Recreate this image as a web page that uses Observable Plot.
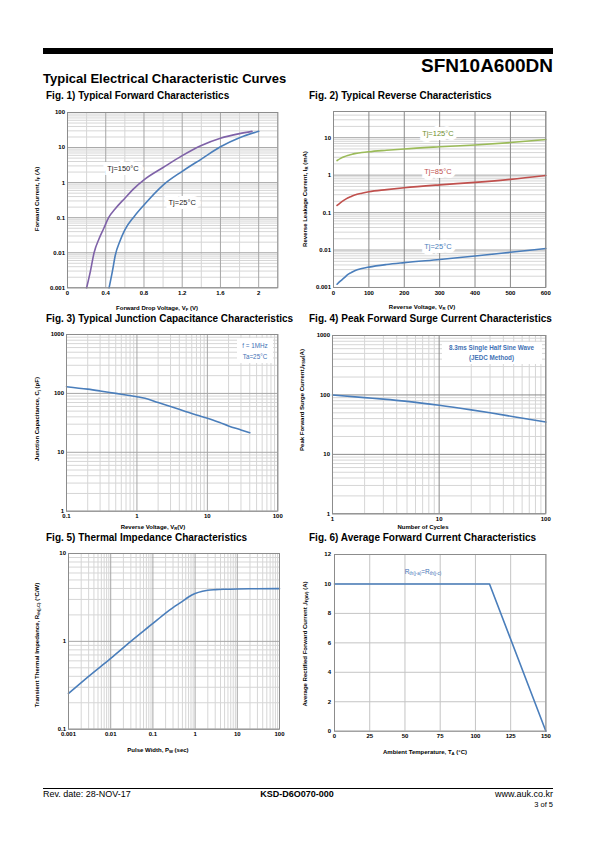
<!DOCTYPE html>
<html><head><meta charset="utf-8">
<script src="https://cdn.jsdelivr.net/npm/d3@7"></script>
<script src="https://cdn.jsdelivr.net/npm/@observablehq/plot@0.6"></script>
<style>
body{margin:0;background:#fff;}
#page{position:relative;width:595px;height:842px;overflow:hidden;background:#fff;font-family:"Liberation Sans",Arial,Helvetica,sans-serif;color:#000;}
.abs{position:absolute;white-space:nowrap;line-height:1;}
.ax{font-weight:bold;font-size:6px;}
.yl{transform:translate(-50%,-50%) rotate(-90deg);}
.xl{transform:translate(-50%,-50%);}
sub{font-size:70%;vertical-align:-0.25em;line-height:0;}
.box{position:absolute;background:#fff;color:#3f72b5;font-size:6.3px;font-weight:bold;text-align:center;line-height:1;}
</style></head><body><div id="page"></div>
<script>
// ---------- Fig 1: forward characteristics ----------
const fwdV150 = [0.2, 0.24, 0.278, 0.33, 0.38, 0.43, 0.5, 0.6, 0.7, 0.8, 1.0, 1.2, 1.4, 1.6, 1.8, 1.93];
const fwdI150 = [0.001, 0.003, 0.01, 0.025, 0.05, 0.1, 0.18, 0.36, 0.7, 1.2, 2.7, 5.9, 11.5, 18.5, 25, 29];
const fwdV25 = [0.435, 0.47, 0.5, 0.55, 0.6, 0.7, 0.8, 1.0, 1.2, 1.4, 1.6, 1.8, 2.0];
const fwdI25 = [0.001, 0.003, 0.0085, 0.022, 0.045, 0.11, 0.23, 0.85, 2.1, 4.7, 10.5, 19, 29];
const f1XTicks = [0, 0.4, 0.8, 1.2, 1.6, 2];
const f1XLabels = ["0", "0.4", "0.8", "1.2", "1.6", "2"];
const f1XMinor = [0.2, 0.6, 1.0, 1.4, 1.8, 2.2];
const f1YTicks = [0.001, 0.01, 0.1, 1, 10, 100];
const f1YLabels = ["0.001", "0.01", "0.1", "1", "10", "100"];

// ---------- Fig 2: reverse characteristics ----------
const revV = [10, 20, 30, 40, 50, 60, 80, 100, 150, 200, 300, 400, 500, 600];
const revI125 = [2.45, 2.8, 3.1, 3.35, 3.55, 3.75, 4.0, 4.2, 4.6, 5.0, 5.7, 6.4, 7.4, 8.9];
const revI85 = [0.155, 0.185, 0.215, 0.245, 0.27, 0.295, 0.33, 0.36, 0.41, 0.46, 0.55, 0.64, 0.77, 0.98];
const revI25 = [0.00122, 0.0015, 0.0018, 0.0022, 0.0025, 0.0028, 0.0032, 0.0035, 0.0041, 0.0046, 0.0056, 0.0069, 0.0087, 0.011];
const f2XTicks = [0, 100, 200, 300, 400, 500, 600];
const f2XLabels = ["0", "100", "200", "300", "400", "500", "600"];
const f2YTicks = [0.001, 0.01, 0.1, 1, 10];
const f2YLabels = ["0.001", "0.01", "0.1", "1", "10"];

// ---------- Fig 3: junction capacitance ----------
const capV = [0.1, 0.2, 0.3, 0.5, 0.7, 1, 1.3, 2, 3, 5, 7, 10, 15, 20, 30, 40];
const capC = [130, 118, 110, 100, 94, 88, 83, 70, 60, 49, 43, 38, 32, 28, 24, 21.5];
const f3XTicks = [0.1, 1, 10, 100];
const f3XLabels = ["0.1", "1", "10", "100"];
const f3YTicks = [1, 10, 100, 1000];
const f3YLabels = ["1", "10", "100", "1000"];

// ---------- Fig 4: peak forward surge current ----------
const surgeN = [1, 2, 3, 5, 10, 20, 30, 50, 100];
const surgeI = [100, 90, 85, 78, 67, 56, 50, 43, 35];
const f4XTicks = [1, 10, 100];
const f4XLabels = ["1", "10", "100"];
const f4YTicks = [1, 10, 100, 1000];
const f4YLabels = ["1", "10", "100", "1000"];

// ---------- Fig 5: thermal impedance ----------
const thermT = [0.001, 0.003, 0.01, 0.03, 0.1, 0.2, 0.3, 0.5, 0.7, 1, 1.5, 2, 3, 5, 10, 30, 100];
const thermZ = [0.255, 0.40, 0.64, 1.0, 1.6, 2.1, 2.42, 2.85, 3.2, 3.5, 3.72, 3.82, 3.88, 3.92, 3.95, 3.97, 3.98];
const f5XTicks = [0.001, 0.01, 0.1, 1, 10, 100];
const f5XLabels = ["0.001", "0.01", "0.1", "1", "10", "100"];
const f5YTicks = [0.1, 1, 10];
const f5YLabels = ["0.1", "1", "10"];

// ---------- Fig 6: average forward current derating ----------
const derateT = [0, 110, 150];
const derateI = [10, 10, 0];
const f6XTicks = [0, 25, 50, 75, 100, 125, 150];
const f6XLabels = ["0", "25", "50", "75", "100", "125", "150"];
const f6YTicks = [0, 2, 4, 6, 8, 10, 12];
const f6YLabels = ["0", "2", "4", "6", "8", "10", "12"];

// ================= rendering =================
const page = document.getElementById("page");
const BLUE = "#4a7ebb", PURPLE = "#7f62a8", GREEN = "#9bbb59", RED = "#c0504d";
const MINOR = "#d6d6d6", MAJOR = "#a6a6a6", FRAME = "#8c8c8c";

function addText(html, left, top, css) {
  const d = document.createElement("div");
  d.className = "abs";
  d.innerHTML = html;
  d.style.left = left + "px";
  d.style.top = top + "px";
  Object.assign(d.style, css || {});
  page.appendChild(d);
  return d;
}
function addDiv(cls, left, top, w, h, html, css) {
  const d = document.createElement("div");
  d.className = cls;
  d.style.left = left + "px"; d.style.top = top + "px";
  if (w != null) d.style.width = w + "px";
  if (h != null) d.style.height = h + "px";
  if (html) d.innerHTML = html;
  Object.assign(d.style, css || {});
  page.appendChild(d);
  return d;
}
function logMinor(lo, hi) {
  const out = [];
  for (let e = Math.floor(Math.log10(lo)); e <= Math.ceil(Math.log10(hi)); e++)
    for (let k = 2; k <= 9; k++) { const v = +(k * Math.pow(10, e)).toPrecision(6); if (v > lo && v < hi) out.push(v); }
  return out;
}
const fmt = (ticks, labels) => d => labels[ticks.indexOf(d)];

function chart(frame, x, y, marks, xt, yt) {
  const [x0, y0, x1, y1] = frame;
  const ML = 34, MR = 14, MT = 10, MB = 14;
  const p = Plot.plot({
    width: x1 - x0 + ML + MR, height: y1 - y0 + MT + MB,
    marginLeft: ML, marginRight: MR, marginTop: MT, marginBottom: MB,
    x, y,
    style: {background: "transparent", overflow: "visible", fontFamily: "'Liberation Sans', Arial, sans-serif", fontSize: "6px", fontWeight: "bold", color: "#000"},
    marks: [
      ...marks,
      Plot.frame({stroke: FRAME, strokeWidth: 1}),
      Plot.axisX(xt[0], {tickSize: 0, tickPadding: xt[2] ?? 3, tickFormat: fmt(xt[0], xt[1]), label: null}),
      Plot.axisY(yt[0], {tickSize: 0, tickPadding: yt[2] ?? 3, tickFormat: fmt(yt[0], yt[1]), label: null})
    ]
  });
  p.style.position = "absolute";
  p.style.left = (x0 - ML) + "px";
  p.style.top = (y0 - MT) + "px";
  page.appendChild(p);
}
const halo = {stroke: "white", strokeWidth: 8, strokeLinejoin: "miter", fontSize: 7.5, fontWeight: "normal"};

// ---- header ----
addDiv("abs", 42.5, 48.3, 510.5, 5.7, "", {background: "#000"});
addText("SFN10A600DN", 0, 55.5, {left: "auto", right: "42px", fontSize: "19px", fontWeight: "bold"});
addText("Typical Electrical Characteristic Curves", 43, 72, {fontSize: "13px", fontWeight: "bold"});
addText("Fig. 1) Typical Forward Characteristics", 46, 90.5, {fontSize: "10px", fontWeight: "bold"});
addText("Fig. 2) Typical Reverse Characteristics", 309, 90.5, {fontSize: "10px", fontWeight: "bold"});
addText("Fig. 3) Typical Junction Capacitance Characteristics", 46, 313.5, {fontSize: "10px", fontWeight: "bold"});
addText("Fig. 4) Peak Forward Surge Current Characteristics", 309, 313.5, {fontSize: "10px", fontWeight: "bold"});
addText("Fig. 5) Thermal Impedance Characteristics", 46, 533, {fontSize: "10px", fontWeight: "bold"});
addText("Fig. 6) Average Forward Current Characteristics", 309, 533, {fontSize: "10px", fontWeight: "bold"});

// ---- Fig 1 ----
chart([66.7, 111.7, 277, 287],
  {domain: [0, 2.2]}, {type: "log", domain: [0.001, 100]},
  [
    Plot.ruleX(f1XMinor, {stroke: MINOR}),
    Plot.ruleY(logMinor(0.001, 100), {stroke: MINOR}),
    Plot.ruleX(f1XTicks, {stroke: MAJOR}),
    Plot.ruleY(f1YTicks, {stroke: MAJOR}),
    Plot.line(fwdV150, {x: fwdV150, y: fwdI150, stroke: PURPLE, strokeWidth: 1.6, curve: "monotone-x"}),
    Plot.line(fwdV25, {x: fwdV25, y: fwdI25, stroke: BLUE, strokeWidth: 1.6, curve: "monotone-x"}),
    Plot.text([{x: 0.58, y: 2.48, t: "Tj=150°C"}, {x: 1.2, y: 0.266, t: "Tj=25°C"}], {x: "x", y: "y", text: "t", fill: "#222", ...halo})
  ],
  [f1XTicks, f1XLabels, 3], [f1YTicks, f1YLabels, 2.5]);
addText("Forward Current, I<sub>F</sub> (A)", 37, 199, {}).className = "abs ax yl";
addText("Forward Drop Voltage, V<sub>F</sub> (V)", 157, 308, {}).className = "abs ax xl";

// ---- Fig 2 ----
chart([332.7, 111, 545, 287],
  {domain: [0, 600]}, {type: "log", domain: [0.001, 50]},
  [
    Plot.ruleY(logMinor(0.001, 50), {stroke: MINOR}),
    Plot.ruleY(f2YTicks, {stroke: MAJOR}),
    Plot.ruleX(f2XTicks, {stroke: "#8a8a8a"}),
    Plot.line(revV, {x: revV, y: revI125, stroke: GREEN, strokeWidth: 1.6, curve: "monotone-x"}),
    Plot.line(revV, {x: revV, y: revI85, stroke: RED, strokeWidth: 1.6, curve: "monotone-x"}),
    Plot.line(revV, {x: revV, y: revI25, stroke: BLUE, strokeWidth: 1.6, curve: "monotone-x"}),
    Plot.text([{x: 295, y: 12.6, t: "Tj=125°C", c: "#6f8f2e"}, {x: 295, y: 1.26, t: "Tj=85°C", c: RED}, {x: 295, y: 0.0126, t: "Tj=25°C", c: BLUE}],
      {x: "x", y: "y", text: "t", fill: "c", ...halo})
  ],
  [f2XTicks, f2XLabels, 3], [f2YTicks, f2YLabels, 2.5]);
addText("Reverse Leakage Current, I<sub>R</sub> (mA)", 305, 199, {}).className = "abs ax yl";
addText("Reverse Voltage, V<sub>R</sub> (V)", 422, 307, {}).className = "abs ax xl";

// ---- Fig 3 ----
chart([66, 334.3, 277.3, 511],
  {type: "log", domain: [0.1, 100]}, {type: "log", domain: [1, 1000]},
  [
    Plot.ruleX(logMinor(0.1, 100), {stroke: MINOR}),
    Plot.ruleY(logMinor(1, 1000), {stroke: MINOR}),
    Plot.ruleX(f3XTicks, {stroke: MAJOR}),
    Plot.ruleY(f3YTicks, {stroke: MAJOR}),
    Plot.line(capV, {x: capV, y: capC, stroke: BLUE, strokeWidth: 1.6, curve: "monotone-x"})
  ],
  [f3XTicks, f3XLabels, 3], [f3YTicks, f3YLabels, 2.5]);
addDiv("box", 237, 337.5, 36, 25, '<div style="margin-top:5px">f = 1MHz</div><div style="margin-top:5px">Ta=25°C</div>', {fontWeight: "normal"});
addText("Junction Capacitance, C<sub>j</sub> (pF)", 37, 419, {}).className = "abs ax yl";
addText("Reverse Voltage, V<sub>R</sub>(V)", 153, 526.5, {}).className = "abs ax xl";

// ---- Fig 4 ----
chart([331.7, 335, 545, 513.3],
  {type: "log", domain: [1, 100]}, {type: "log", domain: [1, 1000]},
  [
    Plot.ruleX(logMinor(1, 100), {stroke: MINOR}),
    Plot.ruleY(logMinor(1, 1000), {stroke: MINOR}),
    Plot.ruleX(f4XTicks, {stroke: "#8a8a8a"}),
    Plot.ruleY(f4YTicks, {stroke: "#8a8a8a"}),
    Plot.line(surgeN, {x: surgeN, y: surgeI, stroke: BLUE, strokeWidth: 1.6, curve: "monotone-x"})
  ],
  [f4XTicks, f4XLabels, 3], [f4YTicks, f4YLabels, 2.5]);
addDiv("box", 441.5, 341.5, 100, 22, '<div style="margin-top:3px">8.3ms Single Half Sine Wave</div><div style="margin-top:4px">(JEDC Method)</div>');
addText("Peak Forward Surge Current,I<sub>FSM</sub>(A)", 302, 400, {}).className = "abs ax yl";
addText("Number of Cycles", 423, 527, {}).className = "abs ax xl";

// ---- Fig 5 ----
chart([67.7, 553.3, 278.7, 729],
  {type: "log", domain: [0.001, 100]}, {type: "log", domain: [0.1, 10]},
  [
    Plot.ruleX(logMinor(0.001, 100), {stroke: MINOR}),
    Plot.ruleY(logMinor(0.1, 10), {stroke: MINOR}),
    Plot.ruleX(f5XTicks, {stroke: MAJOR}),
    Plot.ruleY(f5YTicks, {stroke: MAJOR}),
    Plot.line(thermT, {x: thermT, y: thermZ, stroke: BLUE, strokeWidth: 1.6, curve: "monotone-x"})
  ],
  [f5XTicks, f5XLabels, 3], [f5YTicks, f5YLabels, 2.5]);
addText("Transient Thermal Impedance, R<sub>th(j-C)</sub> (°C/W)", 37, 645, {}).className = "abs ax yl";
addText("Pulse Width, P<sub>W</sub> (sec)", 158, 750, {}).className = "abs ax xl";

// ---- Fig 6 ----
chart([334.3, 554, 545.7, 730.7],
  {domain: [0, 150]}, {domain: [0, 12]},
  [
    Plot.ruleX(f6XTicks, {stroke: "#c4c4c4"}),
    Plot.ruleY(f6YTicks, {stroke: "#c4c4c4"}),
    Plot.line(derateT, {x: derateT, y: derateI, stroke: BLUE, strokeWidth: 1.6})
  ],
  [f6XTicks, f6XLabels, 3], [f6YTicks, f6YLabels, 3.5]);
addText("R<sub>th(j-a)</sub>=R<sub>th(j-c)</sub>", 423, 572, {color: "#3f72b5", fontSize: "6.5px", transform: "translate(-50%,-50%)"});
addText("Average Rectified Forward Current ,I<sub>F(AV)</sub> (A)", 305, 644, {}).className = "abs ax yl";
addText("Ambient Temperature, T<sub>A</sub> (°C)", 425, 752, {}).className = "abs ax xl";

// ---- footer ----
addDiv("abs", 42.5, 787.5, 510.5, 1, "", {background: "#000"});
addText("Rev. date: 28-NOV-17", 43, 790, {fontSize: "9px"});
addText("KSD-D6O070-000", 297, 790, {fontSize: "9px", fontWeight: "bold", transform: "translateX(-50%)"});
addText("www.auk.co.kr", 0, 790, {left: "auto", right: "42px", fontSize: "9px"});
addText("3 of 5", 0, 801, {left: "auto", right: "42px", fontSize: "7.5px"});
</script></body></html>
